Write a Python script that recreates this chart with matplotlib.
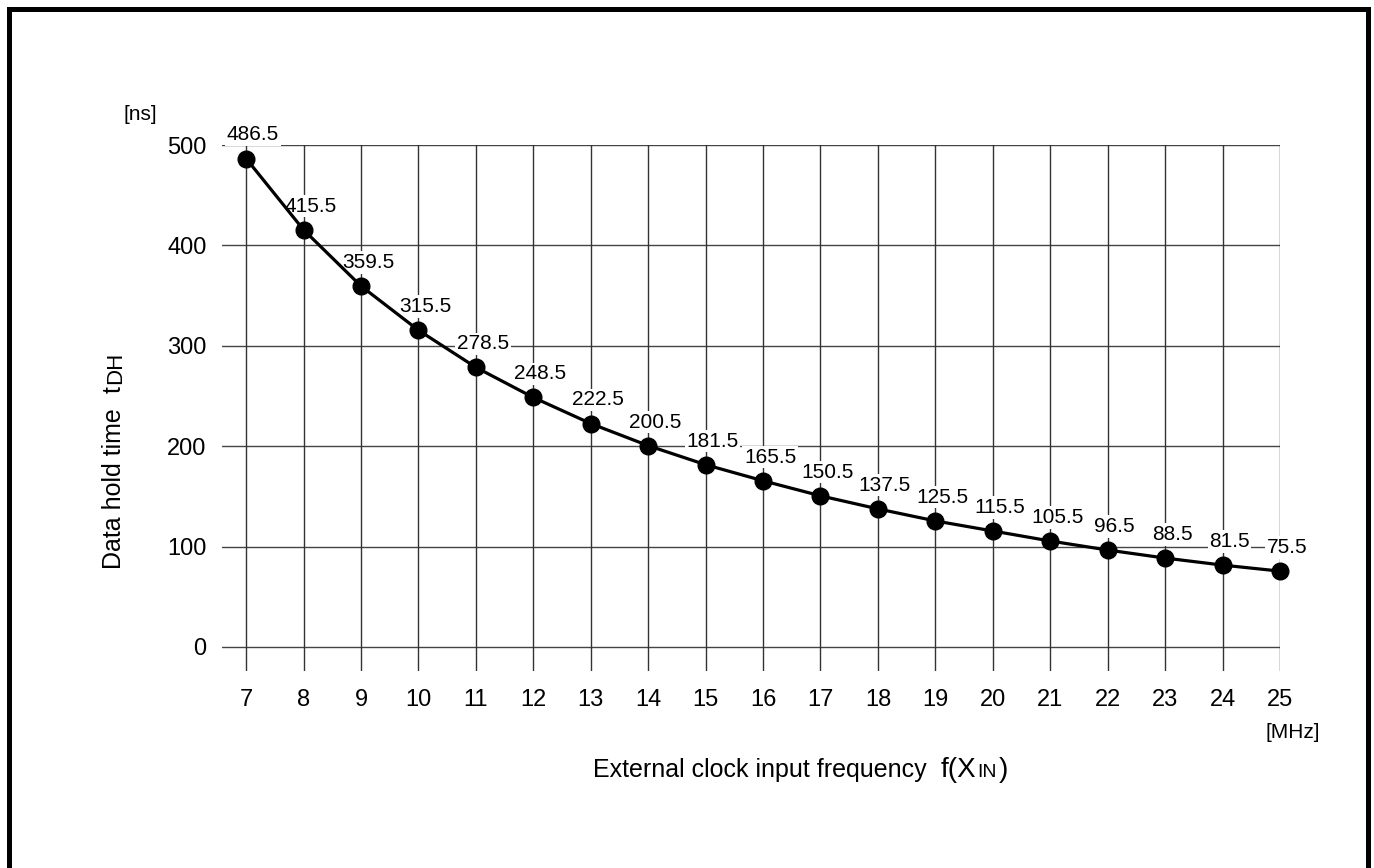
import matplotlib

matplotlib.use("Agg")
import matplotlib.pyplot as plt
from matplotlib.patches import Rectangle

plt.rcParams["font.family"] = ["Liberation Sans", "DejaVu Sans"]

freq = [7, 8, 9, 10, 11, 12, 13, 14, 15, 16, 17, 18, 19, 20, 21, 22, 23, 24, 25]
hold = [486.5, 415.5, 359.5, 315.5, 278.5, 248.5, 222.5, 200.5, 181.5, 165.5,
        150.5, 137.5, 125.5, 115.5, 105.5, 96.5, 88.5, 81.5, 75.5]
yticks = [0, 100, 200, 300, 400, 500]

W, H = 1374, 868
fig = plt.figure(figsize=(W / 100, H / 100), dpi=100)
ax = fig.add_axes([222 / W, 1 - 671 / H, (1280 - 222) / W, (671 - 145) / H])

ax.set_xlim(6.58, 25)
ax.set_ylim(-24, 500)
ax.set_xticks(freq)
ax.set_yticks(yticks)
ax.tick_params(length=0, labelsize=17)
ax.tick_params(axis="y", pad=11)
ax.tick_params(axis="x", pad=13)
for s in ax.spines.values():
    s.set_visible(False)

for y in yticks:
    ax.axhline(y, color="#444444", lw=1.0, zorder=1)
for x in freq:
    ax.axvline(x, color="#333333", lw=1.0, zorder=1)

ax.plot(freq, hold, color="black", lw=2.3, marker="o", ms=12, zorder=3,
        clip_on=False)

for x, y in zip(freq, hold):
    ax.annotate(f"{y}", (x, y), xytext=(5, 17), textcoords="offset points",
                ha="center", va="center", fontsize=15, zorder=2,
                bbox=dict(boxstyle="square,pad=0.08", fc="white", ec="none"))

# units
fig.text(140 / W, 1 - 114 / H, "[ns]", fontsize=15, ha="center", va="center")
fig.text(1293 / W, 1 - 733 / H, "[MHz]", fontsize=15, ha="center", va="center")

fig.canvas.draw()
r = fig.canvas.get_renderer()

# x label pieces on one baseline
x0, yb = 593, H - 777
for txt, size, gap in [("External clock input frequency", 18, 14), ("f(X", 20, 1),
                       ("IN", 14, 2), (")", 20, 0)]:
    t = fig.text(x0 / W, yb / H, txt, fontsize=size, ha="left", va="baseline")
    x0 += t.get_window_extent(r).width + gap

# y label pieces, rotated
xb, y0 = 121, H - 569
for txt, size, gap in [("Data hold time", 18, 15), ("t", 18, 2), ("DH", 16, 0)]:
    t = fig.text(xb / W, y0 / H, txt, fontsize=size, rotation=90,
                 rotation_mode="anchor", ha="left", va="baseline")
    y0 += t.get_window_extent(r).height + gap

# frame around the whole figure
fig.patches.append(Rectangle((8.5, -10), 1368 - 8.5, H - 8.5 + 10, transform=None,
                             fill=False, ec="black", lw=3.6))

fig.savefig("out.png", dpi=100)
